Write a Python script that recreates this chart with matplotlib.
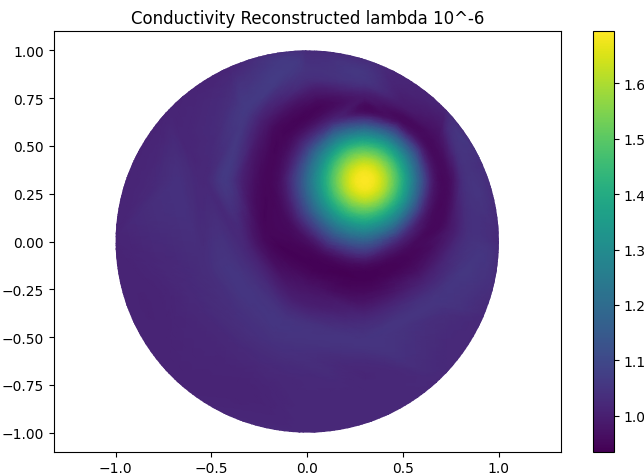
import numpy as np
import matplotlib
matplotlib.use("Agg")
import matplotlib.pyplot as plt
import matplotlib.tri as mtri
from matplotlib.patches import Circle

# valori: raggi attorno al picco di conduttività
bump_centre = (0.30, 0.32)
peak_value = 1.69
ray_angles_deg = [0, 30, 60, 90, 120, 150, 180, 210, 240, 270, 300, 330]
ray_radii = [0.06, 0.12, 0.18, 0.24, 0.30, 0.36, 0.44, 0.52, 0.62, 0.72, 0.84, 0.98, 1.12, 1.26]
ray_values = [
    [1.67, 1.58, 1.45, 1.29, 1.12, 0.98, 0.96, 1.04],
    [1.67, 1.58, 1.45, 1.29, 1.12, 0.97, 0.97, 1.04],
    [1.67, 1.58, 1.45, 1.29, 1.11, 0.96, 0.99],
    [1.67, 1.58, 1.45, 1.29, 1.11, 0.96, 0.99, 1.05],
    [1.67, 1.58, 1.46, 1.31, 1.15, 1.01, 0.95, 0.98, 1.04, 1.06],
    [1.67, 1.58, 1.46, 1.32, 1.18, 1.05, 0.96, 0.95, 1.00, 1.06, 1.03],
    [1.67, 1.58, 1.46, 1.33, 1.20, 1.08, 0.97, 0.95, 0.99, 1.06, 1.02, 1.04, 1.02],
    [1.67, 1.58, 1.46, 1.33, 1.20, 1.08, 0.97, 0.95, 0.96, 1.02, 1.05, 1.03, 1.02, 1.01],
    [1.67, 1.58, 1.46, 1.33, 1.20, 1.08, 0.96, 0.94, 0.97, 1.00, 1.05, 1.04, 1.02, 1.01],
    [1.67, 1.58, 1.46, 1.33, 1.20, 1.08, 0.96, 0.94, 0.97, 1.02, 1.05, 1.02, 1.02],
    [1.67, 1.58, 1.45, 1.31, 1.16, 1.02, 0.95, 0.96, 1.01, 1.05, 1.03],
    [1.67, 1.58, 1.45, 1.30, 1.13, 0.99, 0.95, 0.99, 1.04, 1.05],
]
# bordo del disco (16 punti)
rim_values = [1.02, 1.03, 1.02, 1.02, 1.02, 1.01, 1.01, 1.01,
              1.01, 1.01, 1.01, 1.02, 1.02, 1.02, 1.02, 1.02]
value_min = 0.935
value_max = 1.694

# costruisce i nodi della mesh
cx, cy = bump_centre
xs, ys, zs = [cx], [cy], [peak_value]
for ang, vals in zip(ray_angles_deg, ray_values):
    t = np.deg2rad(ang)
    for r, v in zip(ray_radii, vals):
        xs.append(cx + r * np.cos(t))
        ys.append(cy + r * np.sin(t))
        zs.append(v)
rim_t = np.linspace(0, 2 * np.pi, len(rim_values), endpoint=False)
for t, v in zip(rim_t, rim_values):
    xs.append(1.03 * np.cos(t))
    ys.append(1.03 * np.sin(t))
    zs.append(v)

tri = mtri.Triangulation(np.array(xs), np.array(ys))
zs = np.array(zs)

# raffinamento della mesh per un aspetto più liscio
refiner = mtri.UniformTriRefiner(tri)
interp = mtri.CubicTriInterpolator(tri, zs, kind='geom')
tri_f, z_f = refiner.refine_field(zs, triinterpolator=interp, subdiv=3)

fig = plt.figure(figsize=(6.44, 4.77), dpi=100)
ax = fig.add_axes([0.0831, 0.0509, 0.788, 0.8813])
cax = fig.add_axes([0.9203, 0.0509, 0.0331, 0.8813])

tpc = ax.tripcolor(tri_f, z_f, shading='gouraud', cmap='viridis',
                   vmin=value_min, vmax=value_max)
tpc.set_clip_path(Circle((0, 0), 1.0, transform=ax.transData))

ax.set_xlim(-1.324, 1.324)
ax.set_ylim(-1.1, 1.1)
ax.set_title("Conductivity Reconstructed lambda 10^-6")
fig.colorbar(tpc, cax=cax)

fig.savefig("out.png", dpi=100)
